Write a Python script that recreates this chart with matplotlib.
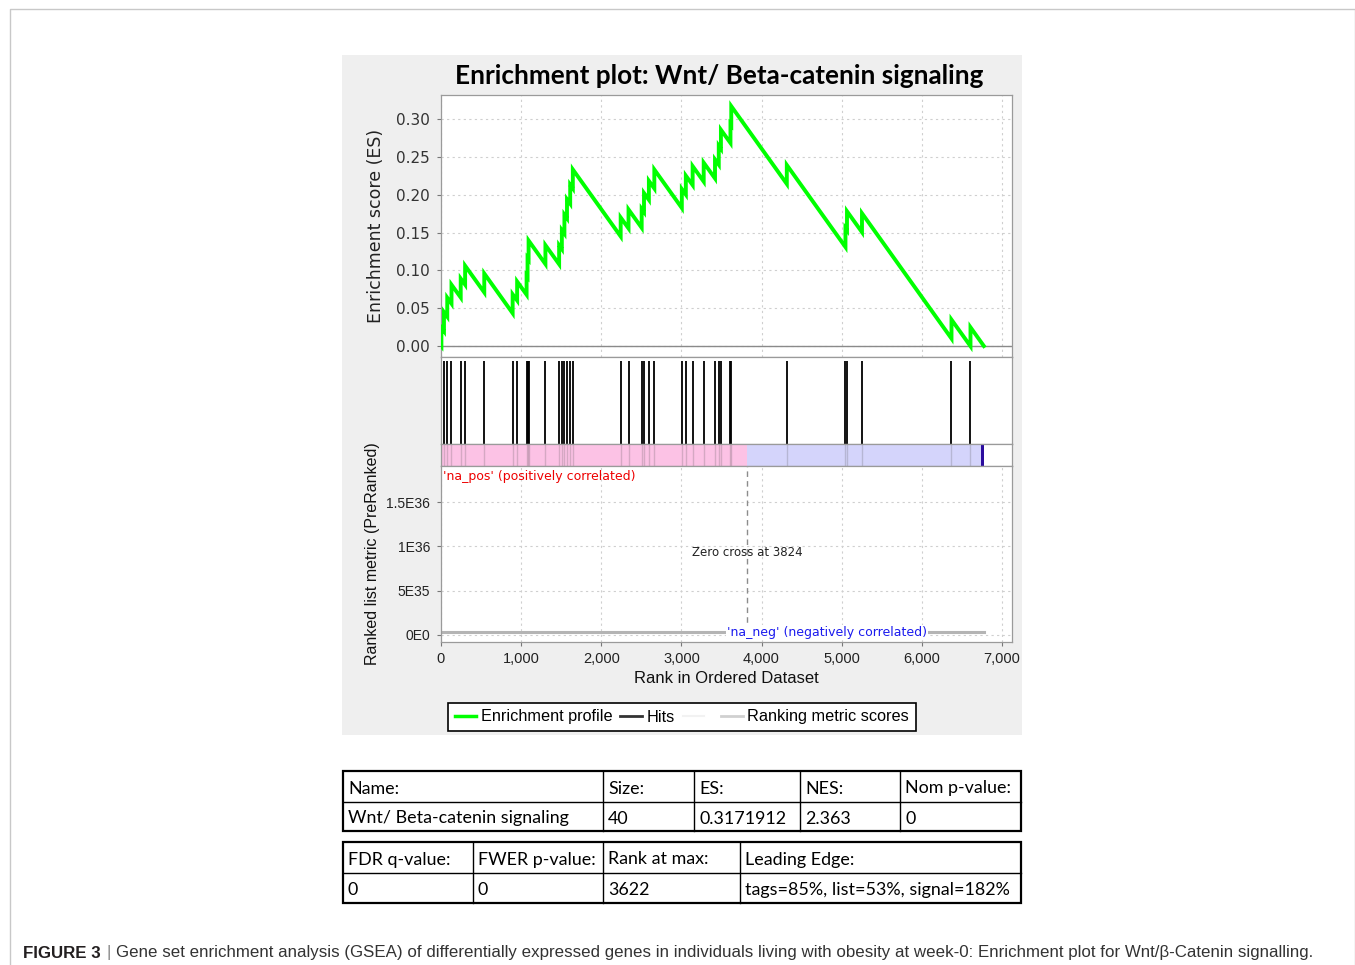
import matplotlib
matplotlib.use("Agg")
import matplotlib.pyplot as plt
from matplotlib.lines import Line2D
from matplotlib.patches import Rectangle
from matplotlib.ticker import FuncFormatter

W, H = 1355, 965

# ---- data ----
hit_ranks = [5, 37, 78, 131, 246, 301, 540, 894, 950, 1068, 1080, 1093, 1303,
             1474, 1508, 1540, 1572, 1612, 1645, 2242, 2340, 2504, 2533, 2594,
             2662, 3005, 3055, 3140, 3278, 3419, 3466, 3493, 3612, 3622, 4315,
             5047, 5066, 5253, 6370, 6607]
# running enrichment score just before / just after each hit
es_before = [-0.0006, 0.0198, 0.0389, 0.0561, 0.0642, 0.0812, 0.0709, 0.0434,
             0.0603, 0.0679, 0.0913, 0.1145, 0.1084, 0.1082, 0.1283, 0.1487,
             0.1691, 0.1883, 0.2085, 0.1450, 0.1556, 0.1564, 0.1773, 0.1934,
             0.2084, 0.1826, 0.2003, 0.2129, 0.2175, 0.2217, 0.2399, 0.2610,
             0.2685, 0.2922, 0.2144, 0.1309, 0.1532, 0.1506, 0.0099, -0.0002]
es_after = [0.0244, 0.0448, 0.0639, 0.0811, 0.0892, 0.1062, 0.0959, 0.0684,
            0.0853, 0.0929, 0.1163, 0.1395, 0.1334, 0.1332, 0.1533, 0.1737,
            0.1941, 0.2133, 0.2335, 0.1700, 0.1806, 0.1814, 0.2023, 0.2184,
            0.2334, 0.2076, 0.2253, 0.2379, 0.2425, 0.2467, 0.2649, 0.2860,
            0.2935, 0.3172, 0.2394, 0.1559, 0.1782, 0.1756, 0.0349, 0.0248]
n_genes = 6774
zero_cross = 3824
heat_edges = [0, 3824, 6740, 6774]
heat_colors = ["#fcc2e5", "#d4d4fb", "#2b0c9e"]
metric_ranks = [0, 6774]
metric_values = [3e34, 3e34]

rank_ticks = [0, 1000, 2000, 3000, 4000, 5000, 6000, 7000]
es_ticks = [0.0, 0.05, 0.10, 0.15, 0.20, 0.25, 0.30]
metric_ticks = [0, 5e35, 1e36, 1.5e36]
metric_tick_labels = ["0E0", "5E35", "1E36", "1.5E36"]

title = "Enrichment plot: Wnt/ Beta-catenin signaling"
table1_header = ["Name:", "Size:", "ES:", "NES:", "Nom p-value:"]
table1_values = ["Wnt/ Beta-catenin signaling", "40", "0.3171912", "2.363", "0"]
table2_header = ["FDR q-value:", "FWER p-value:", "Rank at max:", "Leading Edge:"]
table2_values = ["0", "0", "3622", "tags=85%, list=53%, signal=182%"]
caption_bold = "FIGURE 3"
caption_text = ("Gene set enrichment analysis (GSEA) of differentially expressed genes in "
                "individuals living with obesity at week-0: Enrichment plot for "
                "Wnt/\u03b2-Catenin signalling.")

GRID = dict(color="#cfcfcf", linestyle=(0, (2, 3)), linewidth=0.8)
SPINE = "#9a9a9a"
XLIM = (0, 7125)


def px_axes(fig, x0, y0, x1, y1, **kw):
    return fig.add_axes([x0 / W, 1 - y1 / H, (x1 - x0) / W, (y1 - y0) / H], **kw)


def style_spines(ax):
    for s in ax.spines.values():
        s.set_color(SPINE)
        s.set_linewidth(0.9)


fig = plt.figure(figsize=(W / 100, H / 100), dpi=100)
fig.patch.set_facecolor("white")

# page overlay in pixel coordinates
page = px_axes(fig, 0, 0, W, H, zorder=-5)
page.set_xlim(0, W)
page.set_ylim(H, 0)
page.axis("off")
page.plot([9.5, 9.5, 1354.5, 1354.5], [990, 8.5, 8.5, 990], color="#c8c8c8", lw=1)
page.add_patch(Rectangle((342, 55), 680, 680, facecolor="#efefef", edgecolor="none"))

fig.text(719 / W, 1 - 76 / H, title, ha="center", va="center", fontsize=18.8,
         fontweight="bold", family="Lato", color="black")

# ---- enrichment score panel ----
ax_es = px_axes(fig, 441, 95, 1012, 357)
ax_es.set_facecolor("white")
es_x, es_y = [0], [0.0]
for r, b, a in zip(hit_ranks, es_before, es_after):
    es_x += [r, r]
    es_y += [b, a]
es_x.append(n_genes)
es_y.append(0.0)
ax_es.plot(es_x, es_y, color="#00ff00", lw=2.8, solid_joinstyle="miter", zorder=3)
ax_es.axhline(0, color="#8a8a8a", lw=1.0, zorder=2)
ax_es.set_xlim(*XLIM)
ax_es.set_ylim(-0.0145, 0.332)
ax_es.set_xticks(rank_ticks)
ax_es.set_yticks(es_ticks)
ax_es.set_yticklabels([f"{v:.2f}" for v in es_ticks], family="DejaVu Sans")
ax_es.tick_params(axis="x", length=0, labelbottom=False)
ax_es.tick_params(axis="y", length=3, color="#777777", labelsize=11,
                  labelcolor="#333333", pad=5)
ax_es.grid(True, **GRID)
ax_es.set_axisbelow(True)
ax_es.set_ylabel("Enrichment score (ES)", fontsize=12.5, family="DejaVu Sans",
                 color="#222222", labelpad=8)
style_spines(ax_es)

# ---- hits panel ----
ax_hits = px_axes(fig, 441, 357, 1012, 444)
ax_hits.set_facecolor("white")
ax_hits.vlines(hit_ranks, 0.0, 0.955, color="black", lw=1.3)
ax_hits.set_xlim(*XLIM)
ax_hits.set_ylim(0, 1)
ax_hits.set_xticks([])
ax_hits.set_yticks([])
style_spines(ax_hits)

# ---- ranked list colour bar ----
ax_bar = px_axes(fig, 441, 444, 1012, 466)
ax_bar.set_facecolor("white")
for x0, x1, c in zip(heat_edges[:-1], heat_edges[1:], heat_colors):
    ax_bar.axvspan(x0, x1, color=c, lw=0)
ax_bar.vlines(hit_ranks, 0, 1, color=(0.3, 0.3, 0.3, 0.22), lw=1.0)
ax_bar.set_xlim(*XLIM)
ax_bar.set_ylim(0, 1)
ax_bar.set_xticks([])
ax_bar.set_yticks([])
style_spines(ax_bar)

# ---- ranked list metric panel ----
ax_m = px_axes(fig, 441, 466, 1012, 642)
ax_m.set_facecolor("white")
ax_m.plot(metric_ranks, metric_values, color="#b4b4b4", lw=2.2, zorder=2)
ax_m.set_xlim(*XLIM)
ax_m.set_ylim(-0.8e35, 1.91e36)
ax_m.vlines(zero_cross, metric_values[0], 1.91e36, color="#8c8c8c", lw=1.0,
            linestyle=(0, (4, 3)), zorder=2)
ax_m.set_xticks(rank_ticks)
ax_m.xaxis.set_major_formatter(FuncFormatter(lambda v, p: f"{int(v):,}"))
ax_m.set_yticks(metric_ticks)
ax_m.set_yticklabels(metric_tick_labels)
for lab in ax_m.get_xticklabels() + ax_m.get_yticklabels():
    lab.set_family("Liberation Sans")
ax_m.tick_params(axis="x", length=3, color="#777777", labelsize=10.5,
                 labelcolor="#222222", pad=4)
ax_m.tick_params(axis="y", length=3, color="#777777", labelsize=10,
                 labelcolor="#222222", pad=5)
ax_m.grid(True, **GRID)
ax_m.set_axisbelow(True)
ax_m.set_xlabel("Rank in Ordered Dataset", fontsize=12, family="Liberation Sans",
                color="#111111", labelpad=4)
ax_m.set_ylabel("Ranked list metric (PreRanked)", fontsize=11.5,
                family="Liberation Sans", color="#111111", labelpad=4)
ax_m.text(0.004, 0.975, "'na_pos' (positively correlated)", transform=ax_m.transAxes,
          ha="left", va="top", color="#ee0000", fontsize=9, family="DejaVu Sans")
ax_m.text(4817, metric_values[0], "'na_neg' (negatively correlated)", ha="center",
          va="center", color="#1a1aee", fontsize=9, family="DejaVu Sans",
          bbox=dict(facecolor="white", edgecolor="none", pad=0.5), zorder=3)
ax_m.text(zero_cross, 0.93e36, f"Zero cross at {zero_cross}", ha="center",
          va="center", color="#222222", fontsize=8.5, family="DejaVu Sans")
style_spines(ax_m)

# ---- legend ----
handles = [Line2D([], [], color="#00ff00", lw=2.5),
           Line2D([], [], color="#333333", lw=2.0),
           Line2D([], [], color="#f2f2f2", lw=1.5),
           Line2D([], [], color="#d0d0d0", lw=2.0)]
labels = ["Enrichment profile", "Hits", " ", "Ranking metric scores"]
leg = fig.legend(handles, labels, loc="center", bbox_to_anchor=(682 / W, 1 - 717 / H),
                 ncol=4, frameon=True, fancybox=False, edgecolor="black",
                 framealpha=1, prop={"family": "Liberation Sans", "size": 11.7},
                 handlelength=1.3, handletextpad=0.3, columnspacing=0.5,
                 borderpad=0.4)
leg.get_frame().set_linewidth(1.2)


# ---- summary tables ----
def draw_table(cols, top, mid, bottom, header, values):
    page.add_patch(Rectangle((cols[0], top), cols[-1] - cols[0], bottom - top,
                             facecolor="white", edgecolor="black", lw=1.6, zorder=1))
    page.plot([cols[0], cols[-1]], [mid, mid], color="black", lw=1.0, zorder=2)
    for x in cols[1:-1]:
        page.plot([x, x], [top, bottom], color="black", lw=1.0, zorder=2)
    for i, x in enumerate(cols[:-1]):
        page.text(x + 5, (top + mid) / 2 + 2, header[i], ha="left", va="center",
                  fontsize=12.9, family="Lato", color="black", zorder=3)
        page.text(x + 5, (mid + bottom) / 2 + 2, values[i], ha="left", va="center",
                  fontsize=12.9, family="Lato", color="black", zorder=3)


draw_table([343, 603, 694, 800, 900, 1021], 771, 802, 831, table1_header, table1_values)
draw_table([343, 473, 603, 740, 1021], 842, 873, 903, table2_header, table2_values)


# ---- caption (font size fitted so the line ends where the reference does) ----
def place_caption(fs):
    renderer = fig.canvas.get_renderer()
    t1 = page.text(23, 953, caption_bold, ha="left", va="center", fontsize=fs,
                   fontweight="bold", family="Liberation Sans", color="#231f20")
    x = t1.get_window_extent(renderer).x1 + 0.45 * fs
    t2 = page.text(x, 952, "|", ha="left", va="center", fontsize=fs,
                   family="Liberation Sans", color="#888888")
    x = t2.get_window_extent(renderer).x1 + 0.45 * fs
    t3 = page.text(x, 953, caption_text, ha="left", va="center", fontsize=fs,
                   family="Liberation Sans", color="#333333")
    return [t1, t2, t3], t3.get_window_extent(renderer).x1


texts, end = place_caption(13.0)
if end > 1310:
    fs = 13.0 * (1310 - 23) / (end - 23)
    for t in texts:
        t.remove()
    place_caption(fs)

fig.savefig("out.png", dpi=100, facecolor="white")
